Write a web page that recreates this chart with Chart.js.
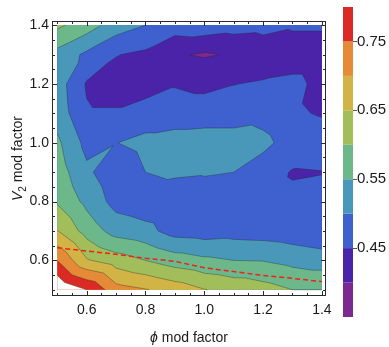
<!DOCTYPE html>
<html>
<head>
<meta charset="utf-8">
<script src="https://cdn.jsdelivr.net/npm/chart.js@4.4.1/dist/chart.umd.min.js"></script>
<style>
  html, body { margin: 0; padding: 0; background: #fff; }
  canvas { display: block; }
</style>
</head>
<body>
<canvas id="chart" width="389" height="347"></canvas>
<script>
// grid of phi / V2 mod factors
const xVals = [0.5, 0.6, 0.7, 0.8, 0.9, 1.0, 1.1, 1.2, 1.3, 1.4];
const yVals = [0.5, 0.6, 0.7, 0.8, 0.9, 1.0, 1.1, 1.2, 1.3, 1.4];

// values, one row per V2 value (bottom to top)
const zY050 = [0.848, 0.800, 0.720, 0.703, 0.680, 0.652, 0.635, 0.620, 0.600, 0.600];
const zY060 = [0.750, 0.655, 0.625, 0.600, 0.575, 0.560, 0.550, 0.548, 0.535, 0.525];
const zY070 = [0.652, 0.580, 0.530, 0.515, 0.480, 0.475, 0.480, 0.477, 0.470, 0.460];
const zY080 = [0.594, 0.537, 0.482, 0.470, 0.460, 0.470, 0.465, 0.465, 0.458, 0.460];
const zY090 = [0.575, 0.510, 0.465, 0.500, 0.510, 0.505, 0.500, 0.470, 0.447, 0.449];
const zY100 = [0.560, 0.485, 0.499, 0.515, 0.525, 0.530, 0.530, 0.515, 0.475, 0.470];
const zY110 = [0.530, 0.455, 0.455, 0.470, 0.470, 0.470, 0.470, 0.480, 0.455, 0.447];
const zY120 = [0.525, 0.445, 0.430, 0.430, 0.447, 0.440, 0.449, 0.455, 0.460, 0.440];
const zY130 = [0.533, 0.490, 0.452, 0.440, 0.405, 0.395, 0.405, 0.420, 0.430, 0.430];
const zY140 = [0.610, 0.575, 0.525, 0.500, 0.475, 0.480, 0.470, 0.465, 0.455, 0.455];

// red dashed reference curve
const dashY = [0.643, 0.632, 0.621, 0.607, 0.597, 0.575, 0.562, 0.549, 0.539, 0.528];

const levels = [0.35, 0.40, 0.45, 0.50, 0.55, 0.60, 0.65, 0.70, 0.75, 0.80];
const bandColors = ['#7b2991', '#4b23a9', '#3f60cf', '#4a98b9', '#6db88b',
                    '#a2be5a', '#d2b446', '#e58a37', '#da2a23'];
const colorbarTicks = [0.45, 0.55, 0.65, 0.75];
const xTicks = [0.6, 0.8, 1.0, 1.2, 1.4];
const yTicks = [0.6, 0.8, 1.0, 1.2, 1.4];

const grid = [zY050, zY060, zY070, zY080, zY090, zY100, zY110, zY120, zY130, zY140];
const FONT = '"Liberation Sans", "DejaVu Sans", sans-serif';

function buildTriangles() {
  const tris = [];
  for (let j = 0; j < yVals.length - 1; j++) {
    for (let i = 0; i < xVals.length - 1; i++) {
      const p00 = {x: xVals[i], y: yVals[j], z: grid[j][i]};
      const p10 = {x: xVals[i + 1], y: yVals[j], z: grid[j][i + 1]};
      const p11 = {x: xVals[i + 1], y: yVals[j + 1], z: grid[j + 1][i + 1]};
      const p01 = {x: xVals[i], y: yVals[j + 1], z: grid[j + 1][i]};
      tris.push([p00, p10, p11]);
      tris.push([p00, p11, p01]);
    }
  }
  return tris;
}

function clipAbove(poly, L) {
  const out = [];
  for (let i = 0; i < poly.length; i++) {
    const a = poly[i], b = poly[(i + 1) % poly.length];
    const ain = a.z >= L, bin = b.z >= L;
    if (ain) out.push(a);
    if (ain !== bin) {
      const t = (L - a.z) / (b.z - a.z);
      out.push({x: a.x + t * (b.x - a.x), y: a.y + t * (b.y - a.y), z: L});
    }
  }
  return out;
}

function crossing(tri, L) {
  const pts = [];
  for (let i = 0; i < 3; i++) {
    const a = tri[i], b = tri[(i + 1) % 3];
    if ((a.z < L) !== (b.z < L)) {
      const t = (L - a.z) / (b.z - a.z);
      pts.push({x: a.x + t * (b.x - a.x), y: a.y + t * (b.y - a.y)});
    }
  }
  return pts;
}

const contourPlugin = {
  id: 'contour',
  beforeDatasetsDraw(chart) {
    const ctx = chart.ctx;
    const xs = chart.scales.x, ys = chart.scales.y;
    const tris = buildTriangles();
    const px = p => xs.getPixelForValue(p.x);
    const py = p => ys.getPixelForValue(p.y);
    ctx.save();
    // filled bands, each level painted over the previous one
    for (let k = 0; k < levels.length; k++) {
      ctx.beginPath();
      tris.forEach(t => {
        const poly = clipAbove(t, levels[k]);
        if (poly.length < 3) return;
        ctx.moveTo(px(poly[0]), py(poly[0]));
        for (let m = 1; m < poly.length; m++) ctx.lineTo(px(poly[m]), py(poly[m]));
        ctx.closePath();
      });
      ctx.fillStyle = k < bandColors.length ? bandColors[k] : '#ffffff';
      ctx.fill();
    }
    // contour lines
    ctx.strokeStyle = 'rgba(30,40,40,0.45)';
    ctx.lineWidth = 0.8;
    for (let k = 1; k < levels.length; k++) {
      ctx.beginPath();
      tris.forEach(t => {
        const s = crossing(t, levels[k]);
        if (s.length === 2) {
          ctx.moveTo(px(s[0]), py(s[0]));
          ctx.lineTo(px(s[1]), py(s[1]));
        }
      });
      ctx.stroke();
    }
    ctx.restore();
  },
  afterDraw(chart) {
    const ctx = chart.ctx;
    const {left, right, top, bottom} = chart.chartArea;
    const xs = chart.scales.x, ys = chart.scales.y;
    ctx.save();
    // frame with inward ticks
    ctx.strokeStyle = '#2a2a2a';
    ctx.lineWidth = 1;
    ctx.strokeRect(left + 0.5, top + 0.5, right - left - 1, bottom - top - 1);
    ctx.beginPath();
    for (let v = 0.5; v <= 1.401; v += 0.05) {
      const major = xTicks.some(t => Math.abs(t - v) < 1e-6);
      const len = major ? 5 : 3;
      const x = Math.round(xs.getPixelForValue(v)) + 0.5;
      ctx.moveTo(x, bottom); ctx.lineTo(x, bottom - len);
      ctx.moveTo(x, top); ctx.lineTo(x, top + len);
      const y = Math.round(ys.getPixelForValue(v)) + 0.5;
      ctx.moveTo(left, y); ctx.lineTo(left + len, y);
      ctx.moveTo(right, y); ctx.lineTo(right - len, y);
    }
    ctx.stroke();

    // axis titles
    ctx.fillStyle = '#1a1a1a';
    ctx.textBaseline = 'alphabetic';
    ctx.font = 'italic 14px ' + FONT;
    const phiW = ctx.measureText('ϕ').width;
    ctx.font = '14px ' + FONT;
    const restW = ctx.measureText(' mod factor').width;
    let x0 = (left + right) / 2 - (phiW + restW) / 2;
    ctx.font = 'italic 14px ' + FONT;
    ctx.fillText('ϕ', x0, 342);
    ctx.font = '14px ' + FONT;
    ctx.fillText(' mod factor', x0 + phiW, 342);

    ctx.save();
    ctx.translate(22, (top + bottom) / 2);
    ctx.rotate(-Math.PI / 2);
    ctx.font = 'italic 14px ' + FONT;
    const vW = ctx.measureText('V').width;
    ctx.font = '10px ' + FONT;
    const sW = ctx.measureText('2').width;
    ctx.font = '14px ' + FONT;
    const mW = ctx.measureText(' mod factor').width;
    let s0 = -(vW + sW + mW) / 2;
    ctx.font = 'italic 14px ' + FONT;
    ctx.fillText('V', s0, 0);
    ctx.font = '10px ' + FONT;
    ctx.fillText('2', s0 + vW, 4);
    ctx.font = '14px ' + FONT;
    ctx.fillText(' mod factor', s0 + vW + sW, 0);
    ctx.restore();

    // colour bar
    const cbX = 343, cbW = 10, cbTop = 7, cbBottom = 317;
    const lo = levels[0], hi = levels[levels.length - 1];
    const cbY = v => cbBottom - (v - lo) / (hi - lo) * (cbBottom - cbTop);
    for (let k = 0; k < bandColors.length; k++) {
      const y1 = cbY(levels[k]), y2 = cbY(levels[k + 1]);
      ctx.fillStyle = bandColors[k];
      ctx.fillRect(cbX, y2, cbW, y1 - y2);
    }
    ctx.strokeStyle = '#555';
    ctx.lineWidth = 1;
    ctx.beginPath();
    colorbarTicks.forEach(v => {
      const y = Math.round(cbY(v)) + 0.5;
      ctx.moveTo(cbX + cbW, y); ctx.lineTo(cbX + cbW + 4, y);
    });
    ctx.stroke();
    ctx.fillStyle = '#1a1a1a';
    ctx.font = '15px ' + FONT;
    ctx.textAlign = 'left';
    ctx.textBaseline = 'middle';
    colorbarTicks.forEach(v => ctx.fillText(v.toFixed(2), cbX + cbW + 4, cbY(v)));
    ctx.restore();
  }
};

const ctx = document.getElementById('chart').getContext('2d');
new Chart(ctx, {
  type: 'scatter',
  data: {
    datasets: [{
      type: 'line',
      data: xVals.map((x, i) => ({x: x, y: dashY[i]})),
      borderColor: '#f0201c',
      borderWidth: 1.5,
      borderDash: [5, 3],
      pointRadius: 0,
      fill: false,
      tension: 0
    }]
  },
  options: {
    responsive: false,
    animation: false,
    devicePixelRatio: 1,
    layout: { padding: { left: 0, top: 21, right: 63, bottom: 0 } },
    plugins: { legend: { display: false }, tooltip: { enabled: false } },
    scales: {
      x: {
        type: 'linear',
        min: 0.482,
        max: 1.414,
        grid: { display: false, drawTicks: false },
        border: { display: false },
        afterBuildTicks: s => { s.ticks = xTicks.map(v => ({value: v})); },
        afterFit: s => { s.height = 51; },
        ticks: {
          padding: 6,
          autoSkip: false,
          maxRotation: 0,
          color: '#1a1a1a',
          font: { family: FONT, size: 14 },
          callback: v => v.toFixed(1)
        }
      },
      y: {
        type: 'linear',
        min: 0.479,
        max: 1.414,
        grid: { display: false, drawTicks: false },
        border: { display: false },
        afterBuildTicks: s => { s.ticks = yTicks.map(v => ({value: v})); },
        afterFit: s => { s.width = 52; },
        ticks: {
          padding: 3,
          autoSkip: false,
          color: '#1a1a1a',
          font: { family: FONT, size: 14 },
          callback: v => v.toFixed(1)
        }
      }
    }
  },
  plugins: [contourPlugin]
});
</script>
</body>
</html>
